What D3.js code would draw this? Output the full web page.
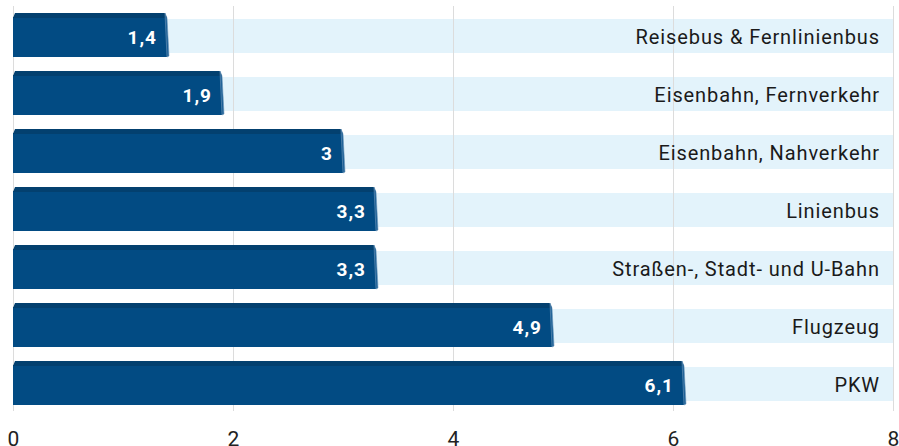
<!DOCTYPE html>
<html>
<head>
<meta charset="utf-8">
<script src="https://cdn.jsdelivr.net/npm/d3@7"></script>
<style>
  body { margin: 0; background: #fff; }
  svg { display: block; font-family: Roboto, "DejaVu Sans", sans-serif; }
</style>
</head>
<body>
<div id="chart"></div>
<script>
// Daten (g CO2-Äquivalent)
const categories = [
    "Reisebus & Fernlinienbus",
    "Eisenbahn, Fernverkehr",
    "Eisenbahn, Nahverkehr",
    "Linienbus",
    "Straßen-, Stadt- und U-Bahn",
    "Flugzeug",
    "PKW"
];
const values = [1.4, 1.9, 3, 3.3, 3.3, 4.9, 6.1];
const xTicks = [0, 2, 4, 6, 8];

const width = 899;
const height = 446;
const margin = { top: 6, right: 6, bottom: 34, left: 13 };

const svg = d3.select("#chart")
    .append("svg")
    .attr("width", width)
    .attr("height", height);

const x = d3.scaleLinear()
    .domain([0, 8])
    .range([margin.left, margin.left + 880]);

const y = d3.scaleBand()
    .domain(categories)
    .range([margin.top, margin.top + 406])
    .padding(0);

const rows = categories.map((c, i) => ({ name: c, value: values[i] }));
const fmt = v => String(v).replace(".", ",");

// hellblaue Hintergrundstreifen
svg.append("g")
    .selectAll("rect")
    .data(rows)
    .join("rect")
    .attr("x", x(0))
    .attr("y", d => y(d.name) + y.bandwidth() / 2 - 16)
    .attr("width", x(8) - x(0))
    .attr("height", 34)
    .attr("fill", "#e3f3fb");

// Gitterlinien
svg.append("g")
    .selectAll("line")
    .data(xTicks)
    .join("line")
    .attr("x1", d => x(d) + 0.5)
    .attr("x2", d => x(d) + 0.5)
    .attr("y1", margin.top)
    .attr("y2", 411)
    .attr("stroke", "#dcdcdc")
    .attr("stroke-width", 1);

// Balken mit leichtem 3D-Effekt
const bars = svg.append("g")
    .selectAll("g")
    .data(rows)
    .join("g");

const barTop = d => y(d.name) + y.bandwidth() / 2 - 22;

bars.append("rect")
    .attr("x", x(0))
    .attr("y", d => barTop(d) + 4)
    .attr("width", d => x(d.value) - x(0))
    .attr("height", 40)
    .attr("fill", "#024b83");

bars.append("path")
    .attr("d", d => {
        const t = barTop(d), x0 = x(0), x1 = x(d.value);
        return `M${x0},${t + 5}L${x0 + 2},${t}L${x1 - 2},${t}L${x1},${t + 5}Z`;
    })
    .attr("fill", "#03406f");

bars.append("path")
    .attr("d", d => {
        const t = barTop(d), x1 = x(d.value);
        return `M${x1 - 2},${t}L${x1},${t + 5}L${x1 + 2},${t + 43}L${x1},${t + 44}Z`;
    })
    .attr("fill", "#1b5f95")
    .attr("stroke", "#6f97bb")
    .attr("stroke-width", 0.6);

// Werte im Balken
bars.append("text")
    .attr("x", d => x(d.value) - 10)
    .attr("y", d => y(d.name) + y.bandwidth() / 2 + 2)
    .attr("dy", "0.35em")
    .attr("text-anchor", "end")
    .attr("fill", "#fff")
    .attr("font-weight", "bold")
    .attr("font-size", 19)
    .attr("letter-spacing", 1)
    .text(d => fmt(d.value));

// Kategorien rechts
svg.append("g")
    .selectAll("text")
    .data(rows)
    .join("text")
    .attr("x", 880)
    .attr("y", d => y(d.name) + y.bandwidth() / 2 + 2)
    .attr("dy", "0.35em")
    .attr("text-anchor", "end")
    .attr("fill", "#1a1a1a")
    .attr("font-size", 20)
    .attr("letter-spacing", 0.9)
    .text(d => d.name);

// x-Achse
const xAxis = d3.axisBottom(x)
    .tickValues(xTicks)
    .tickSize(0)
    .tickPadding(0)
    .tickFormat(d3.format("d"));

svg.append("g")
    .attr("transform", `translate(0, ${431})`)
    .call(xAxis)
    .call(g => g.select(".domain").remove())
    .call(g => g.selectAll("text")
        .attr("font-size", 21)
        .attr("fill", "#222")
        .attr("font-family", "Roboto, sans-serif"));
</script>
</body>
</html>
